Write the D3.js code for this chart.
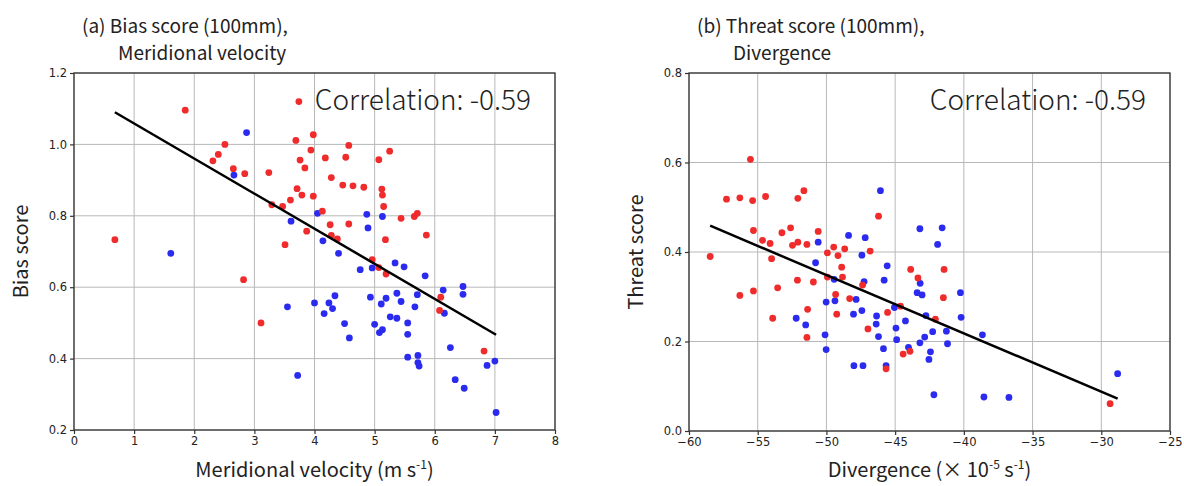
<!doctype html>
<html>
<head>
<meta charset="utf-8">
<script src="https://d3js.org/d3.v7.min.js"></script>
<style>
  body { margin: 0; background: #fff; }
  .tick text { font-family: "DejaVu Sans", sans-serif; font-size: 11.5px; fill: #222; }
  .lbl { font-family: "Noto Sans CJK JP", "Noto Sans", sans-serif; fill: #222; }
</style>
</head>
<body>
<svg width="1184" height="486"></svg>
<script>
// ---- panel (a): meridional velocity vs bias score ----
var aBlue = [
  [1.61,0.695],[2.87,1.033],[2.66,0.914],[3.61,0.785],[4.05,0.807],[4.14,0.730],
  [4.40,0.695],[4.76,0.649],[4.87,0.804],[4.89,0.766],[4.96,0.654],[5.13,0.798],
  [5.34,0.668],[5.49,0.657],[5.84,0.632],[6.14,0.592],[6.47,0.602],[6.47,0.580],
  [5.71,0.579],[5.37,0.583],[5.19,0.569],[5.11,0.553],[5.44,0.560],[4.93,0.572],
  [4.34,0.576],[4.24,0.556],[4.00,0.556],[4.30,0.540],[3.55,0.545],[4.16,0.526],
  [5.26,0.517],[5.37,0.513],[5.67,0.545],[6.16,0.527],[4.50,0.498],[4.58,0.458],
  [5.00,0.496],[5.08,0.473],[5.13,0.481],[5.55,0.500],[5.55,0.468],[5.55,0.404],
  [5.72,0.409],[5.72,0.389],[5.74,0.379],[6.26,0.431],[6.34,0.341],[6.49,0.317],
  [6.87,0.381],[7.00,0.393],[7.02,0.249],[3.72,0.353]
];
var aRed = [
  [0.68,0.733],[1.85,1.096],[3.74,1.120],[2.31,0.954],[2.40,0.972],[2.51,1.000],
  [2.65,0.932],[2.84,0.918],[2.82,0.621],[3.24,0.921],[3.29,0.831],[3.47,0.826],
  [3.51,0.719],[3.60,0.844],[3.69,1.011],[3.71,0.876],[3.76,0.956],[3.79,0.858],
  [3.84,0.934],[3.87,0.757],[3.94,0.984],[3.98,1.027],[3.98,0.855],[4.13,0.813],
  [4.18,0.962],[4.26,0.775],[4.28,0.907],[4.28,0.745],[4.38,0.735],[4.47,0.886],
  [4.52,0.964],[4.57,0.997],[4.57,0.777],[4.64,0.884],[4.82,0.880],[4.96,0.677],
  [5.07,0.655],[5.07,0.957],[5.12,0.875],[5.13,0.858],[5.15,0.826],[5.18,0.733],
  [5.19,0.637],[5.25,0.981],[5.44,0.793],[5.66,0.798],[5.71,0.807],[5.86,0.746],
  [6.10,0.572],[6.08,0.535],[3.11,0.500],[6.82,0.421]
];
var aFit = { slope: -0.0983, intercept: 1.157 };
var aXTicks = [0, 1, 2, 3, 4, 5, 6, 7, 8];
var aYTicks = [0.2, 0.4, 0.6, 0.8, 1.0, 1.2];

// ---- panel (b): divergence vs threat score ----
var bBlue = [
  [-52.20,0.252],[-50.79,0.376],[-50.60,0.422],[-50.02,0.288],[-49.44,0.339],[-49.38,0.291],
  [-48.39,0.437],[-48.03,0.261],[-47.84,0.294],[-47.42,0.393],[-47.42,0.269],[-47.26,0.334],
  [-47.18,0.432],[-46.35,0.257],[-46.07,0.537],[-45.80,0.337],[-45.58,0.369],[-45.05,0.276],
  [-44.25,0.246],[-43.40,0.309],[-43.20,0.452],[-43.18,0.330],[-43.04,0.304],[-42.76,0.258],
  [-41.91,0.417],[-41.58,0.454],[-40.25,0.309],[-40.20,0.254],
  [-51.51,0.237],[-50.10,0.215],[-50.02,0.182],[-48.00,0.146],[-47.34,0.146],[-46.38,0.239],
  [-46.21,0.211],[-45.85,0.184],[-45.66,0.146],[-44.94,0.230],[-44.89,0.204],[-44.03,0.187],
  [-43.20,0.197],[-42.85,0.210],[-42.54,0.160],[-42.27,0.222],[-42.43,0.177],[-42.18,0.081],
  [-41.27,0.223],[-41.19,0.195],[-38.65,0.215],[-38.54,0.076],[-36.72,0.075],[-28.81,0.128]
];
var bRed = [
  [-58.46,0.390],[-57.27,0.518],[-56.30,0.521],[-56.30,0.303],[-55.53,0.607],[-55.37,0.515],
  [-55.31,0.448],[-55.31,0.313],[-54.65,0.426],[-54.43,0.524],[-54.10,0.419],[-53.99,0.385],
  [-53.91,0.252],[-53.55,0.320],[-53.24,0.443],[-52.61,0.454],[-52.47,0.415],[-52.08,0.422],
  [-52.08,0.520],[-52.11,0.337],[-51.64,0.537],[-51.42,0.417],[-51.37,0.272],[-50.95,0.333],
  [-50.60,0.446],[-49.93,0.398],[-49.93,0.344],[-49.47,0.411],[-49.16,0.392],[-48.89,0.366],
  [-48.83,0.344],[-48.67,0.407],[-49.33,0.305],[-49.25,0.261],[-48.31,0.296],[-47.37,0.326],
  [-46.82,0.402],[-46.21,0.480],[-45.55,0.265],[-44.61,0.279],[-43.87,0.361],[-43.34,0.342],
  [-42.07,0.250],[-41.49,0.298],[-41.44,0.361],[-51.42,0.209],[-46.98,0.228],[-45.66,0.139],
  [-44.42,0.172],[-43.92,0.178],[-29.36,0.061]
];
var bFit = { slope: -0.01303, intercept: -0.303 };
var bXTicks = [-60, -55, -50, -45, -40, -35, -30, -25];
var bYTicks = [0.0, 0.2, 0.4, 0.6, 0.8];

var corrText = "Correlation: -0.59";

var svg = d3.select("svg");

function drawPanel(p) {
  var x = d3.scaleLinear().domain(p.xDomain).range([p.left, p.right]);
  var y = d3.scaleLinear().domain(p.yDomain).range([p.bottom, p.top]);
  var g = svg.append("g");

  // grid
  g.selectAll(".gx").data(p.xTicks).enter().append("line")
    .attr("x1", function (d) { return x(d); }).attr("x2", function (d) { return x(d); })
    .attr("y1", p.top).attr("y2", p.bottom)
    .attr("stroke", "#b8b8b8").attr("stroke-width", 1);
  g.selectAll(".gy").data(p.yTicks).enter().append("line")
    .attr("y1", function (d) { return y(d); }).attr("y2", function (d) { return y(d); })
    .attr("x1", p.left).attr("x2", p.right)
    .attr("stroke", "#b8b8b8").attr("stroke-width", 1);

  // points
  g.selectAll(".pb").data(p.blue).enter().append("circle")
    .attr("cx", function (d) { return x(d[0]); })
    .attr("cy", function (d) { return y(d[1]); })
    .attr("r", 3.4).attr("fill", "#2b2bef");
  g.selectAll(".pr").data(p.red).enter().append("circle")
    .attr("cx", function (d) { return x(d[0]); })
    .attr("cy", function (d) { return y(d[1]); })
    .attr("r", 3.4).attr("fill", "#ef2b2b");

  // fit line over the data range
  var allX = p.blue.concat(p.red).map(function (d) { return d[0]; });
  var x0 = d3.min(allX), x1 = d3.max(allX);
  g.append("line")
    .attr("x1", x(x0)).attr("y1", y(p.fit.intercept + p.fit.slope * x0))
    .attr("x2", x(x1)).attr("y2", y(p.fit.intercept + p.fit.slope * x1))
    .attr("stroke", "#000").attr("stroke-width", 2.5);

  // frame
  g.append("rect")
    .attr("x", p.left).attr("y", p.top)
    .attr("width", p.right - p.left).attr("height", p.bottom - p.top)
    .attr("fill", "none").attr("stroke", "#333").attr("stroke-width", 1.3);

  // axes
  var ax = g.append("g").attr("transform", "translate(0," + p.bottom + ")")
    .call(d3.axisBottom(x).tickValues(p.xTicks).tickSize(4).tickPadding(3)
      .tickFormat(p.xFormat));
  var ay = g.append("g").attr("transform", "translate(" + p.left + ",0)")
    .call(d3.axisLeft(y).tickValues(p.yTicks).tickSize(4).tickPadding(3)
      .tickFormat(d3.format(".1f")));
  [ax, ay].forEach(function (a) {
    a.select(".domain").remove();
    a.selectAll(".tick line").attr("stroke", "#333").attr("stroke-width", 1.2);
  });

  // titles
  g.append("text").attr("class", "lbl").attr("x", p.left + 8).attr("y", 33)
    .attr("font-size", 19).text(p.title1);
  g.append("text").attr("class", "lbl").attr("x", p.left + 44).attr("y", 60)
    .attr("font-size", 19).text(p.title2);

  // correlation
  g.append("text").attr("class", "lbl").attr("x", p.right - 24).attr("y", 110)
    .attr("text-anchor", "end").attr("font-size", 28).attr("font-weight", 300)
    .attr("fill", "#333").text(corrText);

  // y label
  g.append("text").attr("class", "lbl")
    .attr("transform", "translate(" + (p.left - 46) + "," + ((p.top + p.bottom) / 2) + ") rotate(-90)")
    .attr("text-anchor", "middle").attr("font-size", 20).text(p.yLabel);

  // x label
  var xl = g.append("text").attr("class", "lbl")
    .attr("x", (p.left + p.right) / 2).attr("y", 477)
    .attr("text-anchor", "middle").attr("font-size", 20);
  p.xLabel.forEach(function (part) {
    var t = xl.append("tspan").text(part.t);
    if (part.sup) t.attr("font-size", 12).attr("dy", -8);
    if (part.down) t.attr("dy", 8);
  });
}

drawPanel({
  left: 74, right: 555, top: 73, bottom: 430,
  xDomain: [0, 8], yDomain: [0.2, 1.2],
  xTicks: aXTicks, yTicks: aYTicks, xFormat: d3.format("d"),
  blue: aBlue, red: aRed, fit: aFit,
  title1: "(a) Bias score (100mm),", title2: "Meridional velocity",
  yLabel: "Bias score",
  xLabel: [{ t: "Meridional velocity (m s" }, { t: "-1", sup: true }, { t: ")", down: true }]
});

drawPanel({
  left: 689, right: 1170, top: 73, bottom: 431,
  xDomain: [-60, -25], yDomain: [0, 0.8],
  xTicks: bXTicks, yTicks: bYTicks, xFormat: function (d) { return d3.format("d")(d).replace("-", "\u2212"); },
  blue: bBlue, red: bRed, fit: bFit,
  title1: "(b) Threat score (100mm),", title2: "Divergence",
  yLabel: "Threat score",
  xLabel: [{ t: "Divergence (\u00d7 10" }, { t: "-5", sup: true }, { t: " s", down: true },
           { t: "-1", sup: true }, { t: ")", down: true }]
});
</script>
</body>
</html>
